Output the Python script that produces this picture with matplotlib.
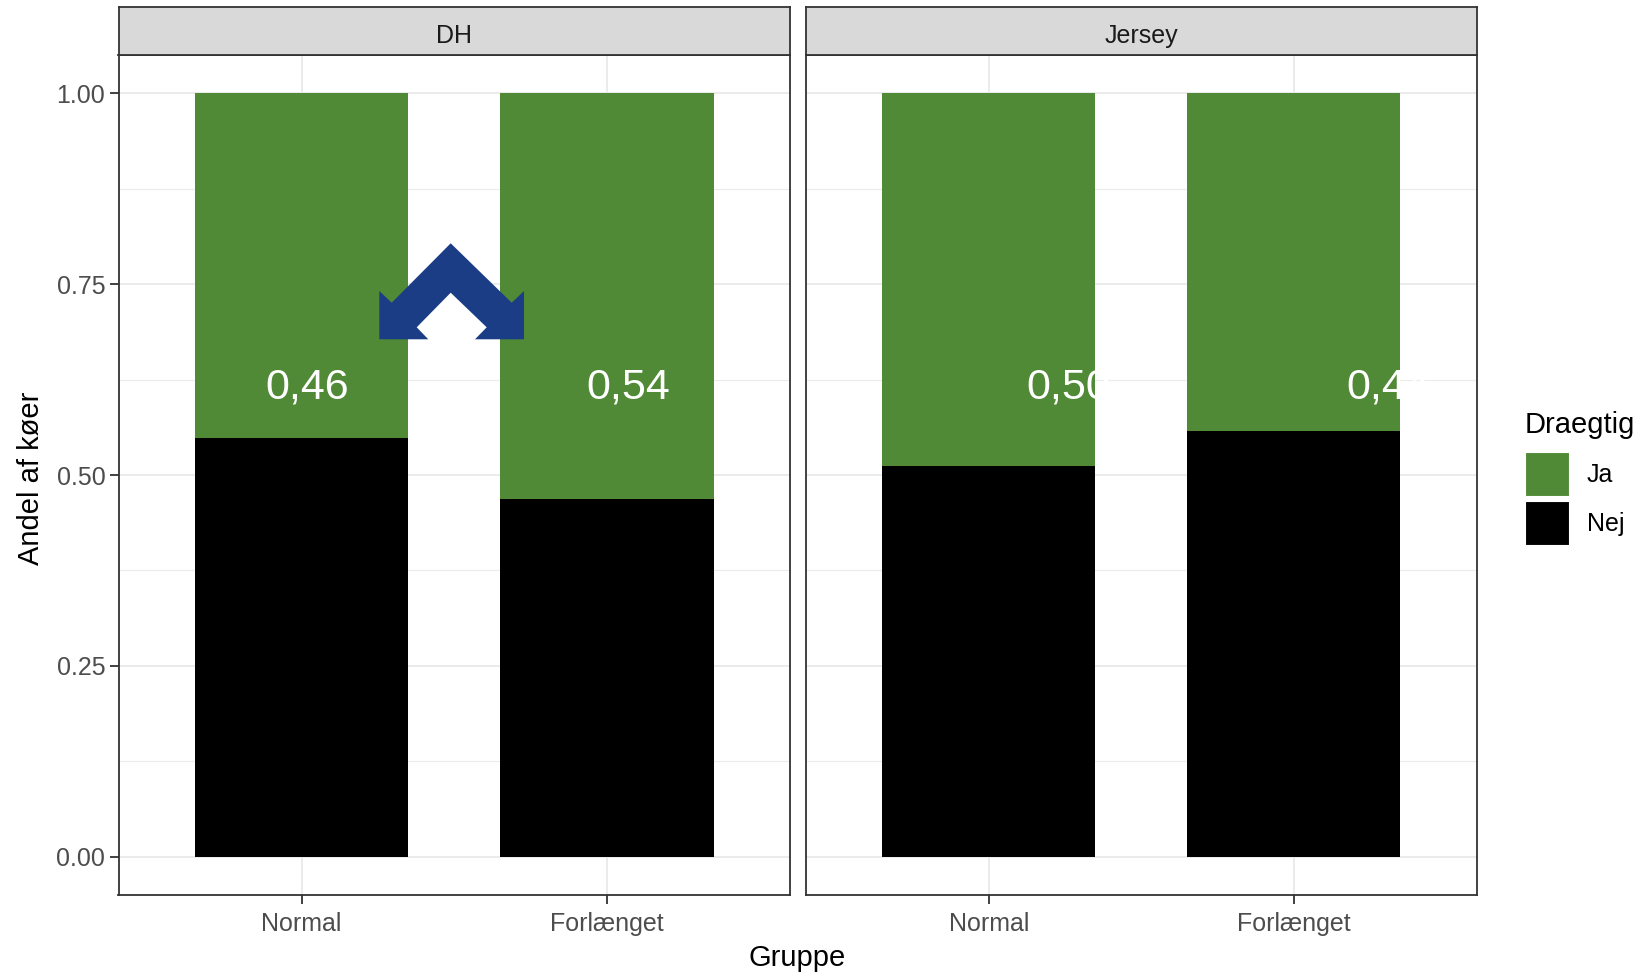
import matplotlib
matplotlib.use("Agg")
import matplotlib.pyplot as plt
from matplotlib.patches import Polygon, Rectangle

plt.rcParams['font.family'] = ['Liberation Sans', 'DejaVu Sans']

# ---------------- data ----------------
breeds = ["DH", "Jersey"]
groups = ["Normal", "Forlænget"]
nej_dh = [0.548, 0.468]
nej_jersey = [0.512, 0.557]
labels_dh = ["0,46", "0,54"]
labels_jersey = ["0,50", "0,44"]
legend_title = "Draegtig"
legend_labels = ["Ja", "Nej"]
y_ticks = [0.0, 0.25, 0.50, 0.75, 1.00]
y_ticklabels = ["0.00", "0.25", "0.50", "0.75", "1.00"]
y_minor = [0.125, 0.375, 0.625, 0.875]

# annotation offsets (left edge of label relative to category position)
label_dx_dh = [-0.118, -0.066]
label_dx_jersey = [0.122, 0.174]
label_y = 0.60

GREEN = "#508A36"
BLACK = "#000000"
BORDER = "#333333"
GRID = "#EBEBEB"
ARROW = "#1B3D85"

W, H = 1647, 976
fig = plt.figure(figsize=(W / 100, H / 100), dpi=100)


def fx(x):
    return x / W


def fy(y):
    return 1 - y / H


panel_top, panel_bot = 55.0, 895.0
strip_top = 6.7
panels = [(118.5, 790.0), (805.7, 1476.7)]
nej_all = [nej_dh, nej_jersey]
lab_all = [labels_dh, labels_jersey]
dx_all = [label_dx_dh, label_dx_jersey]

xpos = [1, 2]
for i, breed in enumerate(breeds):
    l, r = panels[i]
    ax = fig.add_axes([fx(l), fy(panel_bot), (r - l) / W, (panel_bot - panel_top) / H])
    nej = nej_all[i]
    ja = [1 - v for v in nej]
    ax.bar(xpos, nej, width=0.7, color=BLACK, zorder=2)
    ax.bar(xpos, ja, bottom=nej, width=0.7, color=GREEN, zorder=2)
    ax.set_xlim(0.4, 2.6)
    ax.set_ylim(-0.05, 1.05)
    ax.set_xticks(xpos)
    ax.set_xticklabels(groups)
    ax.set_yticks(y_ticks)
    ax.set_yticklabels(y_ticklabels)
    ax.set_axisbelow(True)
    ax.grid(which="major", color=GRID, lw=1.4)
    for yv in y_minor:
        ax.axhline(yv, color=GRID, lw=0.8, zorder=0.5)
    for s in ax.spines.values():
        s.set_color(BORDER)
        s.set_linewidth(1.3)
    ax.tick_params(which="major", length=6.5, width=1.3, color=BORDER,
                   labelcolor="#4D4D4D", labelsize=18, pad=3)
    ax.tick_params(axis="x", which="major", pad=5.5)
    if i > 0:
        ax.tick_params(axis="y", left=False, labelleft=False)
    for xp, t, dx in zip(xpos, lab_all[i], dx_all[i]):
        ax.text(xp + dx, label_y, t, color="white", fontsize=31,
                ha="left", va="baseline", zorder=5)

    sax = fig.add_axes([fx(l), fy(panel_top), (r - l) / W, (panel_top - strip_top) / H])
    sax.set_facecolor("#D9D9D9")
    sax.set_xticks([])
    sax.set_yticks([])
    for s in sax.spines.values():
        s.set_color(BORDER)
        s.set_linewidth(1.3)
    sax.text(0.5, 0.40, breed, ha="center", va="center", fontsize=18,
             color="#1A1A1A", transform=sax.transAxes)

# axis titles
fig.text(fx(31.5), fy(478), "Andel af køer", rotation=90, ha="center",
         va="center", fontsize=21, color="black")
fig.text(fx(797.6), fy(958), "Gruppe", ha="center", va="center",
         fontsize=21, color="black")

# legend
fig.text(fx(1525), fy(433), legend_title, ha="left", va="baseline",
         fontsize=21, color="black")
key_tops = [451.7, 500.7]
for col, lab, kt in zip([GREEN, BLACK], legend_labels, key_tops):
    fig.add_artist(Rectangle((fx(1525), fy(kt + 44.3)), 44 / W, 44.3 / H,
                             transform=fig.transFigure, facecolor=col,
                             edgecolor="white", lw=0.8))
    fig.text(fx(1587), fy(kt + 23), lab, ha="left", va="center",
             fontsize=18, color="black")

# overlaid chevron arrow
arrow_px = [(450.7, 243.3), (511.7, 302.7), (524.0, 291.0), (524.0, 339.3),
            (475.0, 339.3), (486.7, 327.3), (450.7, 292.7), (416.7, 327.3),
            (428.3, 339.3), (379.3, 339.3), (379.3, 291.0), (391.7, 302.7)]
fig.add_artist(Polygon([(fx(x), fy(y)) for x, y in arrow_px], closed=True,
                       transform=fig.transFigure, facecolor=ARROW,
                       edgecolor="none", zorder=10))

fig.savefig("out.png", dpi=100)
